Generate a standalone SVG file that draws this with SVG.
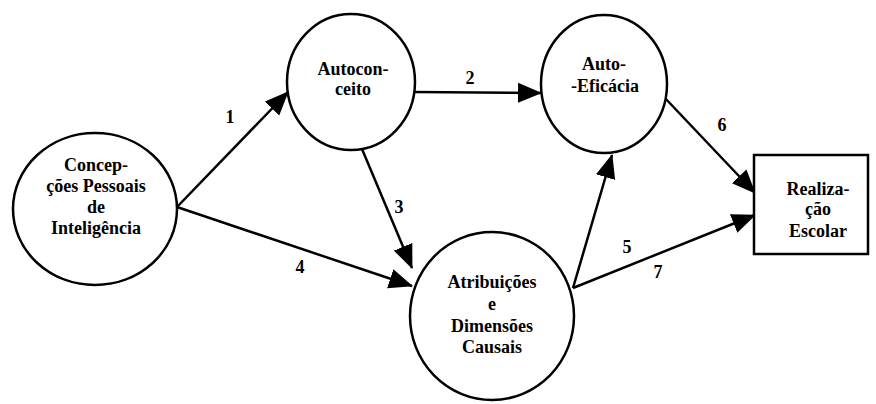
<svg xmlns="http://www.w3.org/2000/svg" width="876" height="404" viewBox="0 0 876 404">
<style>
.n{fill:#fff;stroke:#000;stroke-width:2.5}
.t{font-family:"Liberation Serif","Times New Roman",serif;font-weight:bold;font-size:18px;fill:#000;text-anchor:middle}
.c{stroke:#000;stroke-width:2.5;fill:none;marker-end:url(#ah)}
</style>
<defs>
<marker id="ah" markerUnits="userSpaceOnUse" markerWidth="24" markerHeight="21" refX="23" refY="10" orient="auto" viewBox="0 0 24 20">
<path d="M0,0 L24,10 L0,20 z" fill="#000"/>
</marker>
</defs>
<rect width="876" height="404" fill="#fff"/>
<g id="connectors">
<line class="c" x1="177" y1="207" x2="288" y2="92"/>
<line class="c" x1="177" y1="207" x2="412" y2="286"/>
<line class="c" x1="414" y1="92" x2="541" y2="93"/>
<line class="c" x1="362" y1="149" x2="412" y2="268"/>
<line class="c" x1="573" y1="288" x2="612" y2="155"/>
<line class="c" x1="573" y1="288" x2="755" y2="215"/>
<line class="c" x1="664" y1="97" x2="755" y2="193"/>
<text class="t" x="230" y="123">1</text>
<text class="t" x="470" y="84">2</text>
<text class="t" x="399" y="213">3</text>
<text class="t" x="300" y="273">4</text>
<text class="t" x="627" y="253">5</text>
<text class="t" x="722" y="131">6</text>
<text class="t" x="658" y="278">7</text>
</g>
<g id="concepcoes">
<ellipse class="n" cx="95" cy="209" rx="82" ry="76"/>
<text class="t" x="96" y="171">Concep-</text>
<text class="t" x="96" y="192">ções Pessoais</text>
<text class="t" x="96" y="213">de</text>
<text class="t" x="96" y="234">Inteligência</text>
</g>
<g id="autoconceito">
<ellipse class="n" cx="351" cy="82" rx="64" ry="68"/>
<text class="t" x="353" y="75">Autocon-</text>
<text class="t" x="353" y="95">ceito</text>
</g>
<g id="autoeficacia">
<ellipse class="n" cx="604" cy="84" rx="63" ry="69"/>
<text class="t" x="604" y="70">Auto-</text>
<text class="t" x="605" y="92">-Eficácia</text>
</g>
<g id="atribuicoes">
<ellipse class="n" cx="492" cy="316" rx="82" ry="84"/>
<text class="t" x="492" y="288">Atribuições</text>
<text class="t" x="492" y="310">e</text>
<text class="t" x="492" y="332">Dimensões</text>
<text class="t" x="492" y="353">Causais</text>
</g>
<g id="realizacao">
<rect class="n" x="754" y="155" width="114" height="99"/>
<text class="t" x="818" y="195">Realiza-</text>
<text class="t" x="818" y="215">ção</text>
<text class="t" x="818" y="237">Escolar</text>
</g>
</svg>
